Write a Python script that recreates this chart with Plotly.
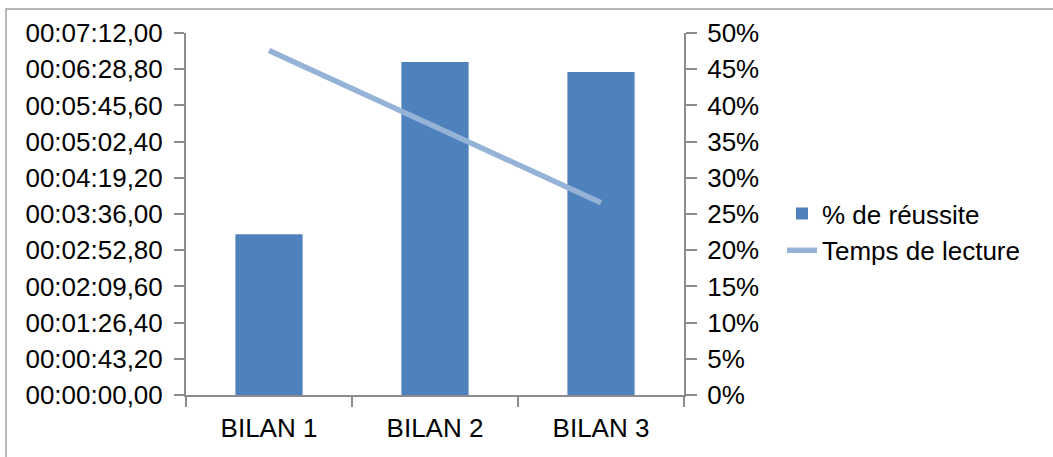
import plotly.graph_objects as go

categories = ["BILAN 1", "BILAN 2", "BILAN 3"]
reussite_pct = [22.2, 46.0, 44.6]          # % de réussite
temps_lecture_s = [411, 320, 229.5]         # Temps de lecture (seconds)
time_tick_labels = ["00:00:00,00", "00:00:43,20", "00:01:26,40", "00:02:09,60",
                    "00:02:52,80", "00:03:36,00", "00:04:19,20", "00:05:02,40",
                    "00:05:45,60", "00:06:28,80", "00:07:12,00"]
pct_tick_labels = ["0%", "5%", "10%", "15%", "20%", "25%", "30%", "35%", "40%", "45%", "50%"]

FONT = "Liberation Sans, Arial, sans-serif"
AXIS = "#8c8c8c"
FS = 26

fig = go.Figure()
fig.add_trace(go.Bar(x=categories, y=reussite_pct, name="% de réussite",
                     marker=dict(color="#4F81BD", line=dict(width=0)),
                     width=0.405, yaxis="y"))
fig.add_trace(go.Scatter(x=categories, y=temps_lecture_s, name="Temps de lecture",
                         mode="lines", line=dict(color="#95B3D7", width=5.5),
                         yaxis="y2"))

fig.update_layout(
    width=1053, height=457,
    margin=dict(l=186, r=369, t=33, b=62),
    paper_bgcolor="white", plot_bgcolor="white",
    font=dict(family=FONT, size=FS, color="black"),
    showlegend=True,
    legend=dict(x=(782 - 186) / 498, y=0.45, xanchor="left", yanchor="middle",
                font=dict(size=FS), bgcolor="rgba(0,0,0,0)", tracegroupgap=0),
    xaxis=dict(showline=True, linecolor=AXIS, linewidth=2, ticks="outside",
               tickson="boundaries", ticklen=10, tickcolor=AXIS, tickwidth=2,
               showgrid=False, tickfont=dict(size=FS), ticklabelstandoff=9),
    yaxis=dict(side="right", range=[0, 50], tickvals=[i * 5 for i in range(11)],
               ticktext=pct_tick_labels, showline=True, linecolor=AXIS, linewidth=2,
               ticks="outside", ticklen=11, tickcolor=AXIS, tickwidth=2,
               showgrid=False, zeroline=False, tickfont=dict(size=FS),
               ticklabelstandoff=5),
    yaxis2=dict(side="left", overlaying="y", range=[0, 432],
                tickvals=[i * 43.2 for i in range(len(time_tick_labels))],
                ticktext=time_tick_labels, showline=True, linecolor=AXIS, linewidth=2,
                ticks="outside", ticklen=10, tickcolor=AXIS, tickwidth=2,
                showgrid=False, zeroline=False, tickfont=dict(size=FS),
                ticklabelstandoff=6),
    shapes=[dict(type="rect", xref="paper", yref="paper",
                 x0=(6 - 186) / 498, x1=(1070 - 186) / 498,
                 y0=(395 - 470) / 362, y1=(395 - 9) / 362,
                 line=dict(color="#a0a0a0", width=1.5), layer="below")],
)

fig.write_html("out.html", config={"displayModeBar": False},
               post_script="document.body.style.margin='0px';document.body.style.overflow='hidden';")
